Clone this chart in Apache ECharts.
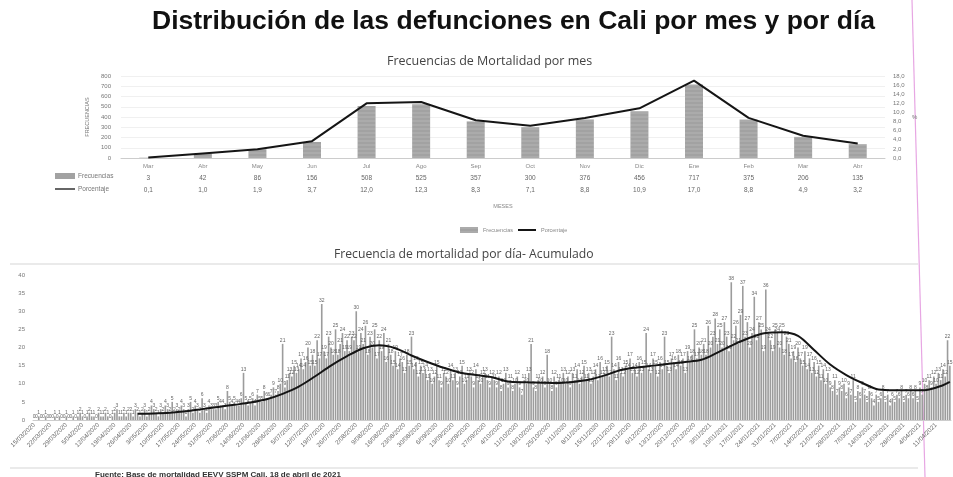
<!DOCTYPE html>
<html>
<head>
<meta charset="utf-8">
<script src="https://cdn.jsdelivr.net/npm/echarts@6/dist/echarts.min.js"></script>
<style>
  html, body { margin: 0; padding: 0; background: #fff; }
  #chart { width: 953px; height: 477px; }
</style>
</head>
<body>
<div id="chart"></div>
<script>
// --- datos mensuales ---
const meses = ["Mar", "Abr", "May", "Jun", "Jul", "Ago", "Sep", "Oct", "Nov", "Dic", "Ene", "Feb", "Mar", "Abr"];
const frecuencias = [3, 42, 86, 156, 508, 525, 357, 300, 376, 456, 717, 375, 206, 135];
const porcentaje = [0.1, 1.0, 1.9, 3.7, 12.0, 12.3, 8.3, 7.1, 8.8, 10.9, 17.0, 8.8, 4.9, 3.2];

// --- datos diarios (defunciones por dia) ---
const diasMar20 = [0,0,1,0,0,1,0,0,0,1,0,1,0,0,1,0,0];
const diasAbr20 = [1,0,1,2,1,0,1,2,1,1,0,2,1,1,2,1,0,1,2,3,1,1,2,1,2,2,1,3,2,1];
const diasMay20 = [2,3,1,2,4,3,2,1,3,2,4,3,2,5,2,3,2,4,3,1,3,5,2,4,3,2,6,3,2,4,3];
const diasJun20 = [3,3,5,4,4,3,8,5,4,5,4,4,6,13,5,4,5,6,4,7,5,5,8,6,6,7,9,7,8,10];
const diasJul20 = [21,9,11,13,12,15,13,14,17,14,16,20,15,18,15,22,17,32,19,17,23,20,18,25,18,21,24,19,22,19,23];
const diasAgo20 = [22,30,19,24,21,26,18,23,20,25,17,22,19,24,16,21,18,15,19,14,17,16,13,18,15,23,14,16,12,15,13];
const diasSep20 = [14,11,13,10,12,15,11,9,13,12,10,14,11,13,9,12,15,10,11,13,12,9,14,11,10,12,13,11,9,12];
const diasOct20 = [11,9,12,8,10,13,9,11,8,10,12,9,7,11,10,13,21,9,8,11,10,12,9,18,10,8,12,9,11,10,13];
const diasNov20 = [10,12,9,13,11,14,10,12,15,11,13,10,12,14,11,16,12,13,15,12,23,14,11,16,13,12,15,14,17,13];
const diasDic20 = [14,12,16,13,15,24,14,13,17,15,12,16,14,23,15,13,17,16,14,18,15,17,13,19,16,18,25,17,20,18,21];
const diasEne21 = [18,26,20,23,28,21,25,20,27,23,19,38,22,26,21,29,37,23,27,20,24,34,22,27,25,19,36,24,22,19,25];
const diasFeb21 = [24,20,25,18,23,21,17,19,16,20,17,15,19,14,17,13,16,12,15,11,14,10,13,9,8,11,7,9];
const diasMar21 = [8,10,6,9,7,11,5,8,6,9,7,5,8,6,4,7,5,6,8,5,7,4,6,5,7,6,8,5,7,6,8];
const diasAbr21 = [6,8,5,9,7,10,8,11,9,12,10,13,11,14,12,22,15];

// [anio, mes, primer dia, valores]
const bloques = [
  [2020, 3, 15, diasMar20], [2020, 4, 1, diasAbr20], [2020, 5, 1, diasMay20],
  [2020, 6, 1, diasJun20], [2020, 7, 1, diasJul20], [2020, 8, 1, diasAgo20],
  [2020, 9, 1, diasSep20], [2020, 10, 1, diasOct20], [2020, 11, 1, diasNov20],
  [2020, 12, 1, diasDic20], [2021, 1, 1, diasEne21], [2021, 2, 1, diasFeb21],
  [2021, 3, 1, diasMar21], [2021, 4, 1, diasAbr21]
];

// promedio movil (indice de dia, valor)
const tendDia = [45,52,59,66,73,80,87,94,101,108,115,122,129,136,143,150,157,164,171,178,185,192,199,206,213,220,227,234,241,248,255,262,269,276,283,290,297,304,311,318,325,332,339,346,353,360,367,374,381,388,395,398];
const tendValor = [1.7,1.8,2.0,2.4,3.0,3.6,4.2,4.8,5.7,7.2,9.2,12.0,15.0,17.6,19.8,20.6,19.8,17.8,16.0,14.4,13.1,12.4,11.8,10.6,10.4,10.3,10.2,10.5,11.1,12.3,13.8,14.5,15.0,15.5,16.0,16.6,18.6,20.8,22.7,24.0,24.2,23.2,19.3,15.3,12.4,10.2,8.4,8.2,8.2,8.3,9.6,10.5];

const fechas = [];
const diario = [];
bloques.forEach(function (b) {
  b[3].forEach(function (v, i) {
    fechas.push((b[2] + i) + "/" + String(b[1]).padStart(2, "0") + "/" + b[0]);
    diario.push(v);
  });
});
const tendencia = fechas.map(function () { return null; });
tendDia.forEach(function (d, i) { tendencia[d] = tendValor[i]; });

function coma(v) { return v.toFixed(1).replace(".", ","); }

(function () {
  var myChart = echarts.init(document.getElementById("chart"));
  var gris = "#a2a2a2";
  option = {
    backgroundColor: "#fff",
    animation: false,
    title: [
      {
        text: "Distribución de las defunciones en Cali por mes y por día",
        left: 147, top: 3,
        textStyle: { fontFamily: "Liberation Sans", fontSize: 26.5, fontWeight: "bold", color: "#111" }
      },
      {
        text: "Frecuencias de Mortalidad por mes",
        left: 382, top: 50,
        textStyle: { fontFamily: "Open Sans", fontSize: 12.5, fontWeight: "normal", color: "#444" }
      },
      {
        text: "Frecuencia de mortalidad por día- Acumulado",
        left: 329, top: 244,
        textStyle: { fontFamily: "Open Sans", fontSize: 12.2, fontWeight: "normal", color: "#444" }
      },
      {
        text: "Fuente: Base de mortalidad EEVV SSPM Cali, 18 de abril de 2021",
        left: 90, top: 466,
        textStyle: { fontFamily: "Liberation Sans", fontSize: 8, fontWeight: "bold", color: "#333" }
      }
    ],
    legend: [
      {
        top: 222, left: 455,
        itemWidth: 18, itemHeight: 6,
        textStyle: { fontSize: 5.5, color: "#888" },
        data: [{ name: "Frecuencias", icon: "rect" }]
      },
      {
        top: 222, left: 513,
        itemWidth: 18, itemHeight: 2,
        textStyle: { fontSize: 5.5, color: "#888" },
        data: [{ name: "Porcentaje", icon: "rect" }]
      }
    ],
    grid: [
      { left: 121, right: 68, top: 76, bottom: 319 },
      { left: 33, right: 2, top: 275, bottom: 57 }
    ],
    xAxis: [
      {
        type: "category", gridIndex: 0, data: meses,
        axisLine: { lineStyle: { color: "#ccc" } },
        axisTick: { show: false },
        axisLabel: {
          interval: 0, margin: 2, fontSize: 6, color: "#888", lineHeight: 12,
          formatter: function (val, idx) {
            return val + "\n{f|" + frecuencias[idx] + "}\n{p|" + coma(porcentaje[idx]) + "}";
          },
          rich: {
            f: { fontSize: 6.5, color: "#666", lineHeight: 12 },
            p: { fontSize: 6.5, color: "#666", lineHeight: 12 }
          }
        },
        name: "MESES", nameLocation: "middle", nameGap: 45,
        nameTextStyle: { fontSize: 5.5, color: "#888" }
      },
      {
        type: "category", gridIndex: 1, data: fechas,
        axisLine: { lineStyle: { color: "#ccc" } },
        axisTick: { show: false },
        axisLabel: { interval: 6, rotate: 45, fontSize: 6.3, color: "#666", margin: 4 }
      }
    ],
    yAxis: [
      {
        type: "value", gridIndex: 0, min: 0, max: 800, interval: 100,
        axisLabel: { fontSize: 6, color: "#777", margin: 10 },
        splitLine: { lineStyle: { color: "#f0f0f0" } },
        name: "FRECUENCIAS", nameLocation: "middle", nameGap: 30,
        nameTextStyle: { fontSize: 5.5, color: "#777" }
      },
      {
        type: "value", gridIndex: 0, position: "right", min: 0, max: 18, interval: 2,
        axisLabel: { fontSize: 6, color: "#777", margin: 8, formatter: coma },
        splitLine: { show: false },
        name: "%", nameLocation: "middle", nameRotate: 0, nameGap: 27,
        nameTextStyle: { fontSize: 6, color: "#777" }
      },
      {
        type: "value", gridIndex: 1, min: 0, max: 40, interval: 5,
        axisLabel: { fontSize: 6, color: "#777", margin: 8 },
        splitLine: { show: false }
      }
    ],
    series: [
      {
        name: "Frecuencias", type: "bar", xAxisIndex: 0, yAxisIndex: 0,
        data: frecuencias, barWidth: 18,
        itemStyle: {
          color: gris,
          decal: { symbol: "rect", symbolSize: 0.6, dashArrayX: [1, 0], dashArrayY: [2, 2], color: "rgba(255,255,255,0.35)" }
        }
      },
      {
        name: "Porcentaje", type: "line", xAxisIndex: 0, yAxisIndex: 1,
        data: porcentaje, symbol: "none",
        lineStyle: { color: "#151515", width: 2 },
        itemStyle: { color: "#151515" }
      },
      {
        name: "Diario", type: "bar", xAxisIndex: 1, yAxisIndex: 2,
        data: diario, barCategoryGap: "30%",
        itemStyle: { color: "#9c9c9c" },
        label: { show: true, position: "top", distance: 1, fontSize: 5, color: "#666" }
      },
      {
        name: "Promedio", type: "line", xAxisIndex: 1, yAxisIndex: 2,
        data: tendencia, connectNulls: true, smooth: 0.3, symbol: "none", z: 5,
        lineStyle: { color: "#151515", width: 2 }
      }
    ],
    graphic: [
      { type: "rect", shape: { x: 55, y: 173, width: 20, height: 6 }, style: { fill: gris } },
      { type: "text", x: 78, y: 176, style: { text: "Frecuencias", fontSize: 6.5, fill: "#777", verticalAlign: "middle" } },
      { type: "line", shape: { x1: 55, y1: 189, x2: 75, y2: 189 }, style: { stroke: "#333", lineWidth: 1.5 } },
      { type: "text", x: 78, y: 189, style: { text: "Porcentaje", fontSize: 6.5, fill: "#777", verticalAlign: "middle" } },
      { type: "line", shape: { x1: 10, y1: 264, x2: 918, y2: 264 }, style: { stroke: "#d5d5d5", lineWidth: 1 } },
      { type: "line", shape: { x1: 10, y1: 468, x2: 918, y2: 468 }, style: { stroke: "#d5d5d5", lineWidth: 1 } },
      { type: "line", shape: { x1: 912, y1: 0, x2: 925, y2: 477 }, style: { stroke: "#e7a6e3", lineWidth: 1.2 } }
    ]
  };
  myChart.setOption(option);
  window.addEventListener("resize", function () {
    myChart.resize();
  });
})();
</script>
</body>
</html>
